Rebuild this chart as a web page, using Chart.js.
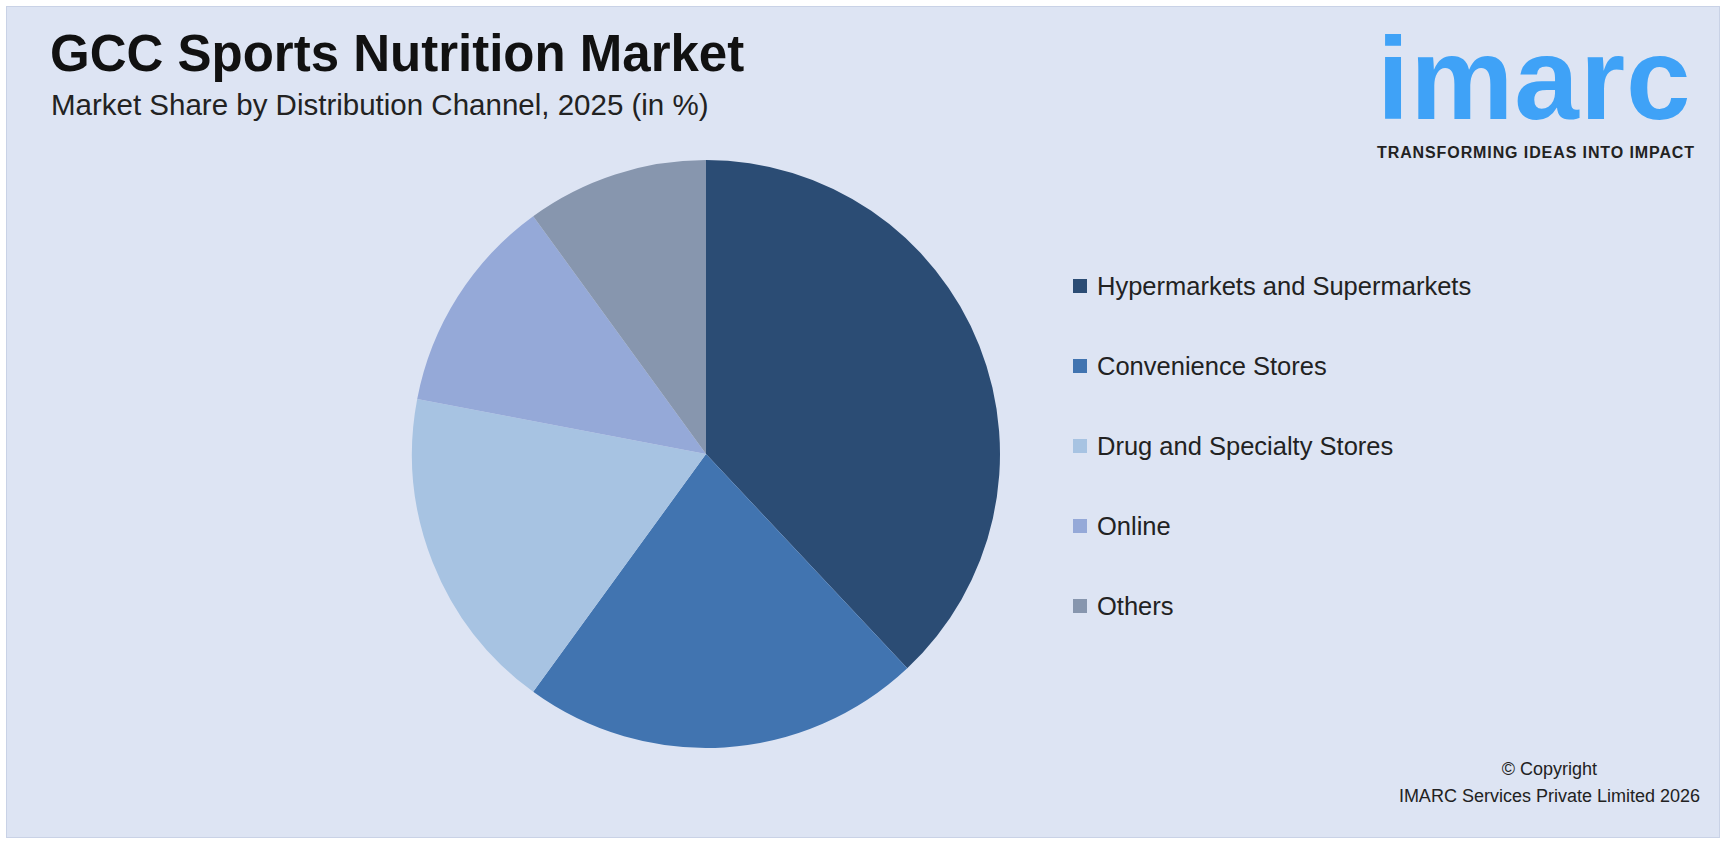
<!DOCTYPE html>
<html><head><meta charset="utf-8">
<script src="https://cdn.jsdelivr.net/npm/chart.js@4"></script>
<style>
html,body{margin:0;padding:0;background:#fff;font-family:"Liberation Sans",Arial,sans-serif;}
#frame{position:absolute;left:6px;top:6px;width:1712px;height:830px;background:#DDE4F3;border:1px solid #c9d2e6;}
#title{position:absolute;left:50px;top:24px;font-size:51px;font-weight:bold;color:#111;}
#sub{position:absolute;left:51px;top:88px;font-size:29.5px;color:#222;}
#logo{position:absolute;left:1377px;top:18px;width:340px;}
#logo .big{font-family:"Liberation Sans",Arial;font-weight:bold;font-size:116px;color:#3FA2F7;letter-spacing:1px;line-height:122px;}
#logo .tag{font-size:16px;font-weight:bold;color:#222;letter-spacing:0.9px;margin-top:4px;}
#chartbox{position:absolute;left:402px;top:150px;width:608px;height:608px;}
#legend{position:absolute;left:1073px;top:246px;}
.li{display:flex;align-items:center;height:80px;font-size:25.5px;color:#222;}
.sw{width:14px;height:14px;margin-right:10px;}
#copy{position:absolute;right:26px;top:756px;text-align:center;font-size:18px;color:#222;line-height:27px;}
</style></head><body>
<div id="frame"></div>
<div id="title">GCC Sports Nutrition Market</div>
<div id="sub">Market Share by Distribution Channel, 2025 (in %)</div>
<div id="logo"><div class="big">imarc</div><div class="tag">TRANSFORMING IDEAS INTO IMPACT</div></div>
<div id="chartbox"><canvas id="c"></canvas></div>
<div id="legend"></div>
<div id="copy">© Copyright<br>IMARC Services Private Limited 2026</div>
<script>
const categories=["Hypermarkets and Supermarkets","Convenience Stores","Drug and Specialty Stores","Online","Others"];
const shares=[38,22,18,12,10];
const colors=["#2B4C74","#4174B0","#A7C3E2","#95A9D8","#8796AE"];
const lg=document.getElementById('legend');
categories.forEach((c,i)=>{const d=document.createElement('div');d.className='li';d.innerHTML='<div class="sw" style="background:'+colors[i]+'"></div>'+c;lg.appendChild(d);});
new Chart(document.getElementById('c'),{type:'pie',
data:{labels:categories,datasets:[{data:shares,backgroundColor:colors,borderWidth:0}]},
options:{responsive:true,maintainAspectRatio:false,animation:false,layout:{padding:10},
plugins:{legend:{display:false},tooltip:{enabled:false}}}});
</script>
</body></html>
